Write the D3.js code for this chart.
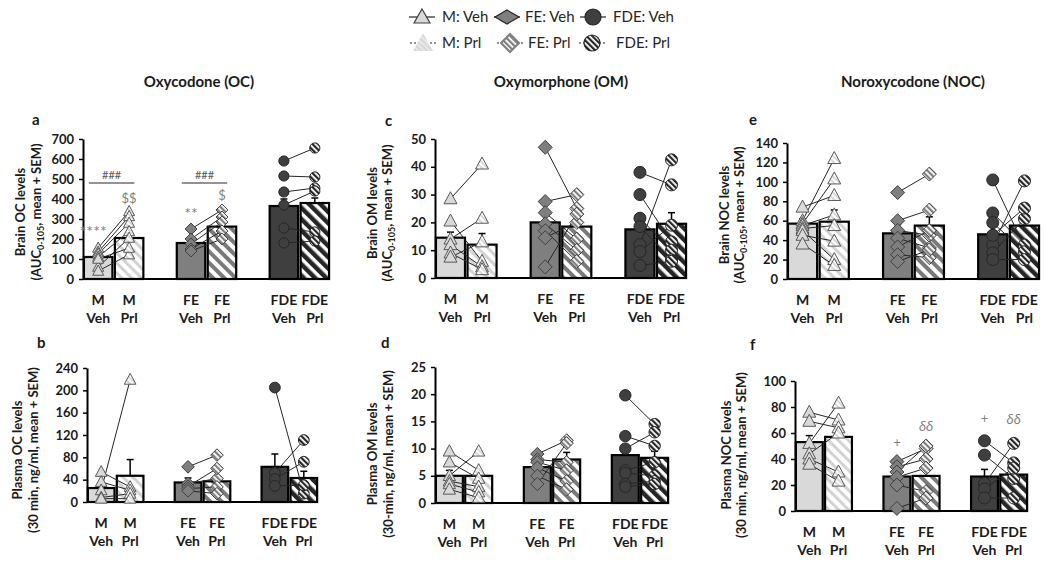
<!DOCTYPE html>
<html><head><meta charset="utf-8">
<script src="https://cdn.jsdelivr.net/npm/d3@7"></script>
<style>body{margin:0;background:#fff} svg{display:block} text{font-family:Lato,"Liberation Sans",sans-serif}</style>
</head><body><svg id="chart" width="1050" height="564"></svg>
<script>
// ---------- DATA ----------
const categories = ["M Veh","M Prl","FE Veh","FE Prl","FDE Veh","FDE Prl"];
const catLine1 = ["M","M","FE","FE","FDE","FDE"];
const catLine2 = ["Veh","Prl","Veh","Prl","Veh","Prl"];
const groupNames = ["M","FE","FDE"];
const legendLabels = ["M: Veh","FE: Veh","FDE: Veh","M: Prl","FE: Prl","FDE: Prl"];
const compoundTitles = ["Oxycodone (OC)","Oxymorphone (OM)","Noroxycodone (NOC)"];

// a: Brain OC
const brainOC_ticks = [0,100,200,300,400,500,600,700];
const brainOC_mean = [110,205,180,262,365,380];
const brainOC_sem = [15,25,15,23,35,25];
const brainOC_veh = [[155,135,125,110,60,40,100],[250,200,175,150,140],[590,515,435,370,255,180]];
const brainOC_prl = [[338,313,280,238,205,122,155],[345,310,285,240,200],[655,510,455,440,235,190]];
const brainOC_notes = [["****","M Veh",240],["$$","M Prl",405],["**","FE Veh",330],["$","FE Prl",420]];
const brainOC_brackets = [["M Veh","M Prl",480,"###"],["FE Veh","FE Prl",480,"###"]];

// b: Plasma OC
const plasmaOC_ticks = [0,40,80,120,160,200,240];
const plasmaOC_mean = [25,47,35,37,63,43];
const plasmaOC_sem = [7,29,8,5,23,12];
const plasmaOC_veh = [[54,36,21,8,6],[63,33,28,24,20],[205,52,41,29]];
const plasmaOC_prl = [[27,21,219,15,6],[84,42,60,27,15],[15,111,72,30]];

// c: Brain OM
const brainOM_ticks = [0,10,20,30,40,50];
const brainOM_mean = [14.5,12,20,18.5,17.5,19.5];
const brainOM_sem = [2,4,3,2.5,3,4];
const brainOM_veh = [[28.5,20.5,14,12,9,7.5],[47,27.5,23.5,19.5,17,14.5,4],[38,30,21.5,18.5,12,9.5,4.5]];
const brainOM_prl = [[41,6,21.5,4,3,13],[25,30,14,10,6,20,23],[33.5,13,10,6.5,42.5,19,6]];

// d: Plasma OM
const plasmaOM_ticks = [0,5,10,15,20,25];
const plasmaOM_mean = [5,5,6.6,8,8.8,8.3];
const plasmaOM_sem = [1,0.8,1,1.3,1.7,1.2];
const plasmaOM_veh = [[9.5,7.5,5,4,3.5,2.5],[9,8,7.5,6.5,5,3.5],[19.8,12.3,10,6,5.5,3.5,3]];
const plasmaOM_prl = [[6,4.5,9.5,3,2,1],[11.5,7.5,6,4,2.5,11],[14.5,10.5,13,7.5,5,4,3.5]];

// e: Brain NOC
const brainNOC_ticks = [0,20,40,60,80,100,120,140];
const brainNOC_mean = [57,59,47,55,46,55];
const brainNOC_sem = [5,12,9,9,9,8];
const brainNOC_veh = [[74,60,57,55,52,50,45,36],[89,60,50,42,33,25,18],[102,68,58,35,27,20,45]];
const brainNOC_prl = [[86,124,103,66,55,20,39,14],[108,71,45,32,50,22,30],[33,35,28,101,62,20,73]];

// f: Plasma NOC
const plasmaNOC_ticks = [0,20,40,60,80,100];
const plasmaNOC_mean = [53,57,26.5,27,26.5,28];
const plasmaNOC_sem = [5,5,4.5,4,5.5,4];
const plasmaNOC_veh = [[76,69,52,44,40,36],[38,34,30,26,20,2],[54,43,21,17,10]];
const plasmaNOC_prl = [[70,64,83,60,30,23],[48,40,50,33,15,10],[37,25,52,33,10]];
const plasmaNOC_notes = [["+","FE Veh",53],["δδ","FE Prl",65],["+","FDE Veh",71],["δδ","FDE Prl",71]];

// ---------- LAYOUT / STYLE ----------
const FONT = 'Lato,"Liberation Sans",sans-serif';
const slotDomain = ["M Veh","M Prl","gap1","FE Veh","FE Prl","gap2","FDE Veh","FDE Prl"];
const vehFill = ["#d9d9d9","#7f7f7f","#3f3f3f"];
const prlBarFill = ["url(#mPrlBar)","url(#fePrlBar)","url(#fdePrlBar)"];
const prlMkFill = ["url(#mPrlMk)","url(#fePrlMk)","url(#fdePrlMk)"];
const mkStroke = ["#595959","#404040","#262626"];

const panels = [
 {letter:"a", mean:brainOC_mean, sem:brainOC_sem, veh:brainOC_veh, prl:brainOC_prl, ticks:brainOC_ticks, l1:"Brain OC levels", auc:true,
  notes:brainOC_notes, brackets:brainOC_brackets,
  L:{x0:83,x1:330,yTop:139,yBottom:279,lab1X:25,lab2X:41,labCY:212,letX:32,letY:125,ms:0.85}},
 {letter:"b", mean:plasmaOC_mean, sem:plasmaOC_sem, veh:plasmaOC_veh, prl:plasmaOC_prl, ticks:plasmaOC_ticks, l1:"Plasma OC levels", l2:"(30 min, ng/ml, mean + SEM)",
  L:{x0:87,x1:318,yTop:368,yBottom:502,lab1X:22,lab2X:38,labCY:450,letX:37,letY:348,ms:0.9}},
 {letter:"c", mean:brainOM_mean, sem:brainOM_sem, veh:brainOM_veh, prl:brainOM_prl, ticks:brainOM_ticks, l1:"Brain OM levels", auc:true,
  L:{x0:435,x1:687,yTop:139,yBottom:278,lab1X:377,lab2X:392,labCY:213,letX:385,letY:126,ms:1}},
 {letter:"d", mean:plasmaOM_mean, sem:plasmaOM_sem, veh:plasmaOM_veh, prl:plasmaOM_prl, ticks:plasmaOM_ticks, l1:"Plasma OM levels", l2:"(30-min, ng/ml, mean + SEM)",
  L:{x0:435,x1:669,yTop:367,yBottom:503,lab1X:377,lab2X:393,labCY:454,letX:381,letY:348,ms:0.95}},
 {letter:"e", mean:brainNOC_mean, sem:brainNOC_sem, veh:brainNOC_veh, prl:brainNOC_prl, ticks:brainNOC_ticks, l1:"Brain NOC levels", auc:true,
  L:{x0:787,x1:1040,yTop:143,yBottom:279,lab1X:729,lab2X:744,labCY:215,letX:749,letY:125,ms:1}},
 {letter:"f", mean:plasmaNOC_mean, sem:plasmaNOC_sem, veh:plasmaNOC_veh, prl:plasmaNOC_prl, ticks:plasmaNOC_ticks, l1:"Plasma NOC levels", l2:"(30 min, ng/ml, mean + SEM)",
  notes:plasmaNOC_notes,
  L:{x0:795,x1:1028,yTop:381,yBottom:511,lab1X:731,lab2X:746,labCY:455,letX:750,letY:350,ms:1}}
];
const titlePos = [199,561,913];

const svg = d3.select("#chart");
const defs = svg.append("defs");
function stripe(id, color, bg, period, width){
  const p = defs.append("pattern").attr("id",id).attr("patternUnits","userSpaceOnUse")
    .attr("width",period).attr("height",period).attr("patternTransform","rotate(-45)");
  p.append("rect").attr("width",period).attr("height",period).attr("fill",bg);
  p.append("rect").attr("width",width).attr("height",period).attr("fill",color);
}
stripe("mPrlBar","#d3d3d3","#fff",7,3);
stripe("fePrlBar","#7a7a7a","#fff",8,4);
stripe("fdePrlBar","#262626","#fff",8,4.5);
stripe("mPrlMk","#d9d9d9","#fff",4,2);
stripe("fePrlMk","#7f7f7f","#fff",4,2.2);
stripe("fdePrlMk","#262626","#fff",4,2.2);
stripe("mPrlLeg","#d9d9d9","#ececec",4,2.5);

function shapePath(g, s){
  if(g===0) return `M0,${-7*s}L${6.5*s},${5*s}L${-6.5*s},${5*s}Z`;
  if(g===1) return `M0,${-7*s}L${7*s},0L0,${7*s}L${-7*s},0Z`;
  const r=6*s; return `M${r},0A${r},${r} 0 1,1 ${-r},0A${r},${r} 0 1,1 ${r},0Z`;
}

// titles
svg.selectAll("text.title").data(compoundTitles).join("text").attr("class","title")
  .attr("x",(d,i)=>titlePos[i]).attr("y",87).attr("text-anchor","middle")
  .attr("font-size",15).attr("font-weight",700).attr("fill","#1a1a1a").text(d=>d);

panels.forEach(P=>{
  const L = P.L;
  const g = svg.append("g");
  const x = d3.scaleBand().domain(slotDomain).range([L.x0,L.x1]).paddingInner(0.08).paddingOuter(0.03);
  const bw = x.bandwidth();
  const cx = c => x(c)+bw/2;
  const y = d3.scaleLinear().domain([0,d3.max(P.ticks)]).range([L.yBottom,L.yTop]);
  const bars = categories.map((c,i)=>({cat:c,g:Math.floor(i/2),t:i%2,mean:P.mean[i],sem:P.sem[i]}));

  g.selectAll("rect.bar").data(bars).join("rect").attr("class","bar")
    .attr("x",d=>x(d.cat)).attr("width",bw).attr("y",d=>y(d.mean)).attr("height",d=>y(0)-y(d.mean))
    .attr("fill",d=>d.t?prlBarFill[d.g]:vehFill[d.g]).attr("stroke","#000").attr("stroke-width",2.2);
  // error bars
  const eb = g.selectAll("g.eb").data(bars).join("g");
  eb.append("line").attr("x1",d=>cx(d.cat)).attr("x2",d=>cx(d.cat)).attr("y1",d=>y(d.mean)).attr("y2",d=>y(d.mean+d.sem))
    .attr("stroke","#000").attr("stroke-width",1.5);
  eb.append("line").attr("x1",d=>cx(d.cat)-3.5).attr("x2",d=>cx(d.cat)+3.5).attr("y1",d=>y(d.mean+d.sem)).attr("y2",d=>y(d.mean+d.sem))
    .attr("stroke","#000").attr("stroke-width",1.5);

  // axes
  g.append("line").attr("x1",L.x0).attr("x2",L.x1).attr("y1",y(0)).attr("y2",y(0)).attr("stroke","#000").attr("stroke-width",2);
  const ax = g.append("g").attr("transform",`translate(${L.x0},0)`)
    .call(d3.axisLeft(y).tickValues(P.ticks).tickSize(4).tickSizeOuter(0).tickPadding(5));
  ax.attr("font-family",FONT);
  ax.select(".domain").attr("stroke","#000").attr("stroke-width",2);
  ax.selectAll(".tick line").attr("stroke","#000").attr("stroke-width",1.5);
  ax.selectAll(".tick text").attr("font-weight",700).attr("font-size",13).attr("fill","#1a1a1a");

  // pair lines
  groupNames.forEach((gn,gi)=>{
    const vx = cx(categories[gi*2]), px = cx(categories[gi*2+1]);
    const pairs = P.veh[gi].map((v,k)=>[v,P.prl[gi][k]]);
    g.selectAll(null).data(pairs).join("line")
      .attr("x1",vx).attr("y1",d=>y(d[0])).attr("x2",px).attr("y2",d=>y(d[1]))
      .attr("stroke","#262626").attr("stroke-width",1);
  });
  // markers
  groupNames.forEach((gn,gi)=>{
    const vx = cx(categories[gi*2]), px = cx(categories[gi*2+1]);
    g.selectAll(null).data(P.veh[gi]).join("path")
      .attr("d",shapePath(gi,L.ms)).attr("transform",d=>`translate(${vx},${y(d)})`)
      .attr("fill",vehFill[gi]).attr("stroke",mkStroke[gi]).attr("stroke-width",1);
    g.selectAll(null).data(P.prl[gi]).join("path")
      .attr("d",shapePath(gi,L.ms)).attr("transform",d=>`translate(${px},${y(d)})`)
      .attr("fill",prlMkFill[gi]).attr("stroke",mkStroke[gi]).attr("stroke-width",1);
  });

  // annotations
  (P.brackets||[]).forEach(b=>{
    g.append("line").attr("x1",x(b[0])+5).attr("x2",x(b[1])+bw-9).attr("y1",y(b[2])).attr("y2",y(b[2]))
      .attr("stroke","#262626").attr("stroke-width",1);
    g.append("text").attr("x",(x(b[0])+5+x(b[1])+bw-9)/2).attr("y",y(b[2])-4).attr("text-anchor","middle")
      .attr("font-size",11).attr("fill","#595959").text(b[3]);
  });
  (P.notes||[]).forEach(n=>{
    const isGreek = n[0]==="δδ";
    g.append("text").attr("x",cx(n[1])-(n[0]==="****"?5:0)).attr("y",y(n[2])).attr("dy","0.35em").attr("text-anchor","middle")
      .attr("font-size",isGreek?14:(n[0].includes("*")?16:13)).attr("font-style",isGreek?"italic":"normal")
      .attr("font-family",isGreek?'"DejaVu Serif",serif':FONT)
      .attr("fill","#7f7f7f").text(n[0]);
  });

  // category labels
  categories.forEach((c,i)=>{
    g.append("text").attr("x",cx(c)).attr("y",L.yBottom+26).attr("text-anchor","middle")
      .attr("font-size",14).attr("font-weight",700).attr("fill","#1a1a1a").text(catLine1[i]);
    g.append("text").attr("x",cx(c)).attr("y",L.yBottom+44).attr("text-anchor","middle")
      .attr("font-size",14).attr("font-weight",700).attr("fill","#1a1a1a").text(catLine2[i]);
  });

  // y labels
  g.append("text").attr("transform",`translate(${L.lab1X},${L.labCY}) rotate(-90)`).attr("text-anchor","middle")
    .attr("font-size",13).attr("font-weight",700).attr("fill","#1a1a1a").text(P.l1);
  const t2 = g.append("text").attr("transform",`translate(${L.lab2X},${L.labCY}) rotate(-90)`).attr("text-anchor","middle")
    .attr("font-size",13).attr("font-weight",700).attr("fill","#1a1a1a");
  if(P.auc){
    t2.append("tspan").text("(AUC");
    t2.append("tspan").attr("font-size",9).attr("dy",3).text("0-105");
    t2.append("tspan").attr("dy",-3).text(", mean + SEM)");
  } else t2.text(P.l2);

  // panel letter
  svg.append("text").attr("x",L.letX).attr("y",L.letY).attr("font-size",15).attr("font-weight",700)
    .attr("fill","#1a1a1a").text(P.letter);
});

// ---------- LEGEND ----------
const legIcon = [[422,507,593],[423,510,592]];
const legText = [[442,525,613],[442,528,616]];
const legY = [17,43];
const leg = svg.append("g");
legendLabels.forEach((lab,i)=>{
  const row = Math.floor(i/3), gi = i%3;
  const ix = legIcon[row][gi], yy = legY[row];
  leg.append("line").attr("x1",ix-13).attr("x2",ix+13).attr("y1",yy).attr("y2",yy)
    .attr("stroke","#262626").attr("stroke-width",1.2).attr("stroke-dasharray",row?"2,2":null);
  let d, fill, stroke;
  if(row===0){
    if(gi===0) d="M0,-8L8,6L-8,6Z";
    else if(gi===1) d="M0,-7L12,0L0,7L-12,0Z";
    else d="M8,0A8,8 0 1,1 -8,0A8,8 0 1,1 8,0Z";
    fill = vehFill[gi]; stroke = gi===0?"#404040":"#262626";
  } else {
    if(gi===0) d="M0,-10L10,8L-10,8Z";
    else if(gi===1) d="M0,-9L9,0L0,9L-9,0Z";
    else d="M8,0A8,8 0 1,1 -8,0A8,8 0 1,1 8,0Z";
    fill = gi===0?"url(#mPrlLeg)":prlMkFill[gi]; stroke = gi===0?"none":(gi===1?"#7f7f7f":"#262626");
  }
  leg.append("path").attr("d",d).attr("transform",`translate(${ix},${yy})`).attr("fill",fill)
    .attr("stroke",stroke).attr("stroke-width",gi===1&&row===1?2:1.2);
  leg.append("text").attr("x",legText[row][gi]).attr("y",yy).attr("dy","0.35em").attr("font-size",15)
    .attr("fill","#262626").text(lab);
});
</script>
</body></html>
